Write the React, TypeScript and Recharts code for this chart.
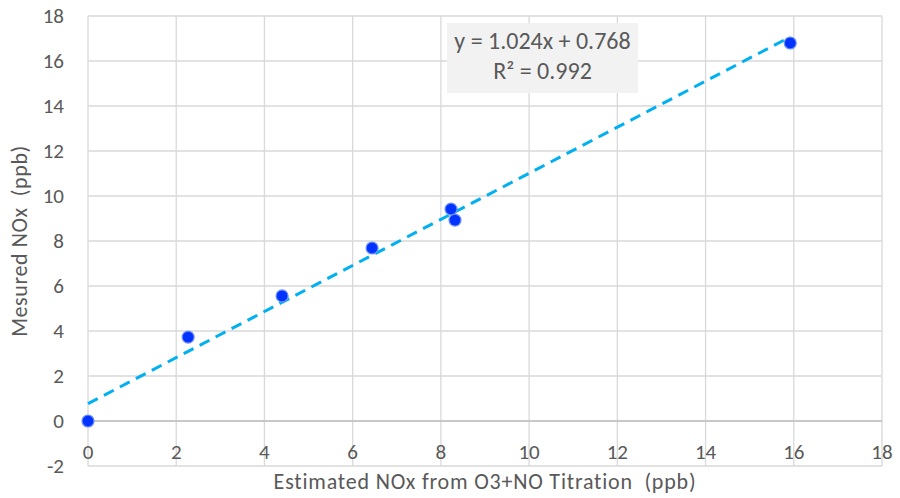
import React from 'react';
import { ScatterChart, Scatter, XAxis, YAxis, CartesianGrid, ReferenceLine } from 'recharts';

// measured points
const estimatedNox = [0, 2.27, 4.4, 6.44, 8.23, 8.32, 15.92];
const measuredNox = [0, 3.73, 5.56, 7.69, 9.42, 8.93, 16.8];

// linear trendline endpoints (y = 1.024x + 0.768)
const trendX = [0, 15.92];
const trendY = [0.77, 17.07];

const xTicks = [0, 2, 4, 6, 8, 10, 12, 14, 16, 18];
const yTicks = [-2, 0, 2, 4, 6, 8, 10, 12, 14, 16, 18];

const fitLabel = 'y = 1.024x + 0.768';
const r2Label = 'R² = 0.992';

const points = estimatedNox.map((x, i) => ({ x, y: measuredNox[i] }));
const trend = trendX.map((x, i) => ({ x, y: trendY[i] }));

const FONT = "Carlito, 'Liberation Sans', sans-serif";
const TEXT = '#595959';

const XTick = (props: any) => {
  const { x, y, payload } = props;
  return (
    <text x={x} y={y - 14} dy="0.35em" textAnchor="middle" fill={TEXT} fontSize={21} fontFamily={FONT}>
      {payload.value}
    </text>
  );
};

const YTick = (props: any) => {
  const { x, y, payload } = props;
  return (
    <text x={x - 24} y={y} dy="0.35em" textAnchor="end" fill={TEXT} fontSize={21} fontFamily={FONT}>
      {payload.value}
    </text>
  );
};

const Dot = (props: any) => (
  <circle cx={props.cx} cy={props.cy} r={6} fill="#0033ff" stroke="#6f8ff5" strokeWidth={1.2} />
);

const App: React.FC = () => {
  return (
    <div style={{ position: 'absolute', left: 0, top: 0, width: 900, height: 498, background: '#fff' }}>
      <ScatterChart width={900} height={498} margin={{ top: 16, right: 18, bottom: 2, left: 0 }}>
        <CartesianGrid stroke="#d9d9d9" strokeWidth={1.3} />
        <XAxis
          type="number"
          dataKey="x"
          domain={[0, 18]}
          ticks={xTicks}
          axisLine={false}
          tickLine={false}
          tickSize={0}
          tickMargin={0}
          height={30}
          tick={<XTick />}
          label={(p: any) => {
            const vb = p.viewBox;
            return (
              <text x={vb.x + vb.width / 2} y={489} textAnchor="middle" fill={TEXT} fontSize={22} letterSpacing={0.8} fontFamily={FONT} style={{ whiteSpace: 'pre' }}>
                Estimated NOx from O3+NO Titration  (ppb)
              </text>
            );
          }}
        />
        <YAxis
          type="number"
          dataKey="y"
          domain={[-2, 18]}
          ticks={yTicks}
          axisLine={false}
          tickLine={false}
          tickSize={0}
          tickMargin={0}
          width={88}
          tick={<YTick />}
          label={(p: any) => {
            const vb = p.viewBox;
            const cy = vb.y + vb.height / 2;
            return (
              <text x={27} y={cy} textAnchor="middle" transform={`rotate(-90 27 ${cy})`} fill={TEXT} fontSize={22} letterSpacing={0.6} fontFamily={FONT} style={{ whiteSpace: 'pre' }}>
                Mesured NOx  (ppb)
              </text>
            );
          }}
        />
        <ReferenceLine y={0} stroke="#bfbfbf" strokeWidth={1.5} />
        <Scatter
          data={trend}
          line={{ stroke: '#00b0f0', strokeWidth: 3, strokeDasharray: '11 7' }}
          shape={() => null}
          isAnimationActive={false}
        />
        <Scatter data={points} shape={<Dot />} isAnimationActive={false} />
      </ScatterChart>
      <div
        style={{
          position: 'absolute',
          left: 447,
          top: 23,
          width: 191,
          height: 70,
          background: '#f2f2f2',
          color: TEXT,
          fontFamily: FONT,
          fontSize: 24,
          lineHeight: '30px',
          textAlign: 'center',
          paddingTop: 3,
          boxSizing: 'border-box',
          whiteSpace: 'nowrap',
        }}
      >
        <div>{fitLabel}</div>
        <div>{r2Label}</div>
      </div>
    </div>
  );
};

export default App;
